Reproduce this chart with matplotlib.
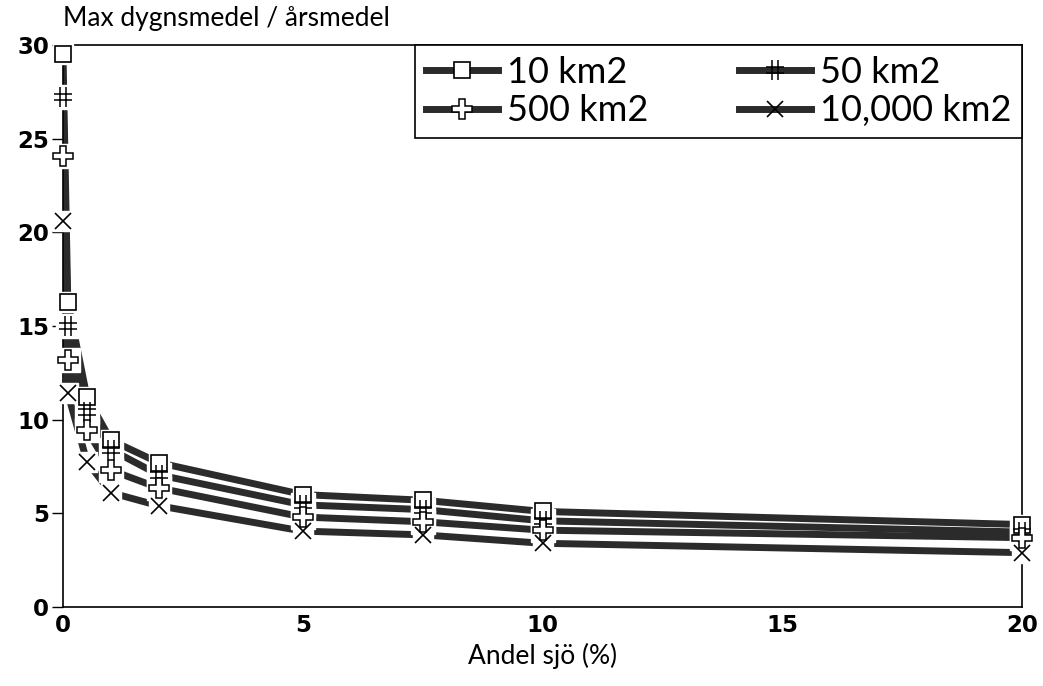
import matplotlib.pyplot as plt
from matplotlib.path import Path
from matplotlib.lines import Line2D

# andel sjö (%) och kvot max dygnsmedel / årsmedel för olika avrinningsområden
andel = [0, 0.1, 0.5, 1, 2, 5, 7.5, 10, 20]
km10 = [29.5, 16.3, 11.2, 8.9, 7.7, 6.0, 5.7, 5.1, 4.4]
km50 = [27.2, 15.0, 10.4, 8.4, 7.05, 5.45, 5.2, 4.6, 4.0]
km500 = [24.1, 13.2, 9.45, 7.3, 6.35, 4.8, 4.55, 4.1, 3.7]
km10000 = [20.6, 11.4, 7.75, 6.1, 5.4, 4.05, 3.85, 3.4, 2.9]
namn = ["10 km2", "50 km2", "500 km2", "10,000 km2"]

# "#"-markör: två lodräta och två vågräta streck
hash_mark = Path(
    [(-0.3, -1), (-0.3, 1), (0.3, -1), (0.3, 1),
     (-0.9, -0.3), (0.9, -0.3), (-0.9, 0.3), (0.9, 0.3)],
    [Path.MOVETO, Path.LINETO] * 4)

stil = [
    dict(marker="s", ms=12, mfc="white", mec="black", mew=1.2),
    dict(marker=hash_mark, ms=14, mfc="none", mec="black", mew=1.1),
    dict(marker="P", ms=14, mfc="white", mec="black", mew=1.1),
    dict(marker="x", ms=12, mfc="none", mec="black", mew=1.2),
]
linje = "#2b2b2b"
tunn = ["Lato", "DejaVu Sans"]

plt.rcParams["font.family"] = ["DejaVu Sans"]
fig = plt.figure(figsize=(10.43, 6.86), dpi=100)
ax = fig.add_axes([0.0604, 0.1152, 0.9196, 0.8192])

serier = [km10, km50, km500, km10000]
handles = []
for y, s, n in zip(serier, stil, namn):
    ax.plot(andel, y, color=linje, lw=5, solid_capstyle="butt", zorder=2)
    # vit bakgrund som bryter linjen runt varje markör
    ax.plot(andel, y, ls="none", marker="s", ms=s["ms"] + 3, mfc="white",
            mec="white", zorder=3, clip_on=False)
    ax.plot(andel, y, ls="none", zorder=4, clip_on=False, **s)
    handles.append(Line2D([], [], color=linje, lw=5, **s))

ax.set_xlim(0, 20)
ax.set_ylim(0, 30)
ax.set_xticks([0, 5, 10, 15, 20])
ax.set_yticks([0, 5, 10, 15, 20, 25, 30])
ax.tick_params(axis="x", length=0, pad=5, labelsize=16.5)
ax.tick_params(axis="y", length=8, width=1, pad=2, labelsize=16.5)
for t in ax.get_xticklabels() + ax.get_yticklabels():
    t.set_fontweight("bold")
for sp in ax.spines.values():
    sp.set_linewidth(1.2)

ax.set_xlabel("Andel sjö (%)", fontsize=19, family=tunn, labelpad=4)
fig.text(0.0604, 0.955, "Max dygnsmedel / årsmedel", fontsize=19,
         family=tunn, ha="left", va="bottom")

ordning = [0, 2, 1, 3]
leg = ax.legend([handles[i] for i in ordning], [namn[i] for i in ordning],
                ncol=2, loc="upper right", bbox_to_anchor=(1, 1),
                borderaxespad=0, fancybox=False, edgecolor="black",
                framealpha=1, prop={"family": tunn, "size": 26},
                handlelength=2.0, columnspacing=2.5, labelspacing=0.15,
                borderpad=0.3, handletextpad=0.25)
leg.get_frame().set_linewidth(1.2)

fig.savefig("out.png", dpi=100)
